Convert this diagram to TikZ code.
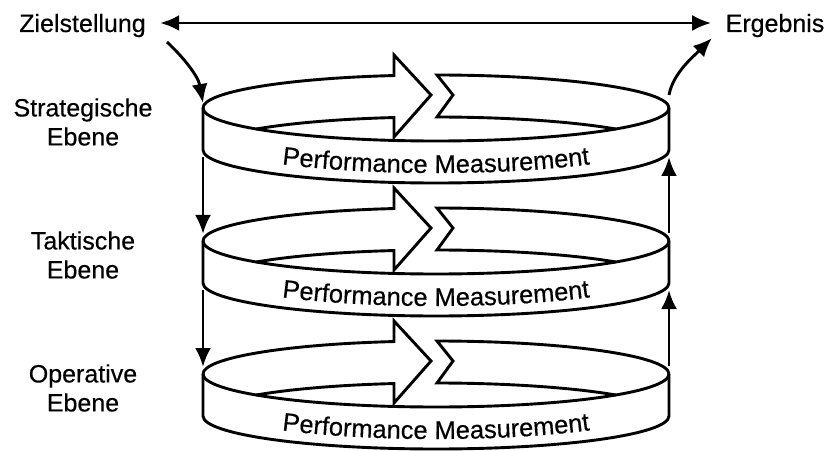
\documentclass[tikz,border=0pt]{standalone}
\usepackage{fontspec}
\setmainfont{Liberation Sans}[FakeBold=0.4]
\usetikzlibrary{arrows.meta,decorations.text}
\newcommand\pmfont{\fontsize{25.5}{30}\selectfont}
\begin{document}
\begin{tikzpicture}[x=1pt,y=1pt,line width=2.9pt,
  arr/.style={-{Latex[length=19pt,width=16pt]}},
  darr/.style={{Latex[length=19pt,width=16pt]}-{Latex[length=19pt,width=16pt]}},
  lbl/.style={align=center,font=\fontsize{25}{29}\selectfont,inner sep=0pt},
  ttl/.style={font=\fontsize{25}{30}\selectfont,inner sep=0pt,anchor=base},
  pmring/.pic={
    \coordinate (-L) at (-233,0);
    \coordinate (-R) at (233,0);
    \coordinate (-BL) at (-233,-42);
    \coordinate (-BR) at (233,-42);
    \draw (-233,0) arc[start angle=180,end angle=360,x radius=233,y radius=33];
    \draw (-233,0) -- (-233,-42) arc[start angle=180,end angle=360,x radius=233,y radius=33] -- (233,0);
    \draw (-233,0) arc[start angle=180,end angle=100.385,x radius=233,y radius=33]
       -- (-42,53) -- (-5,13) -- (-42,-29) -- (-42,-9.54)
       arc[start angle=100.385,end angle=140.48,x radius=233,y radius=33];
    \draw (233,0) arc[start angle=0,end angle=89.754,x radius=233,y radius=33]
       -- (17,13) -- (1,-9)
       arc[start angle=89.754,end angle=39.52,x radius=233,y radius=33];
    \path[decorate,decoration={text along path,text align=center,
        text={|\pmfont|Performance Measurement}}]
       (-218.95,-41.97) arc[start angle=200,end angle=340,x radius=233,y radius=35];
  }]
\path[fill=white,use as bounding box] (0,0) rectangle (829,450);

\pic (r1) at (436,342) {pmring};
\pic (r2) at (436,209) {pmring};
\pic (r3) at (436,76) {pmring};

\node[lbl] (s1) at (83,328) {Strategische\\Ebene};
\node[lbl] (s2) at (83,195) {Taktische\\Ebene};
\node[lbl] (s3) at (83,62) {Operative\\Ebene};

\node[ttl] (ziel) at (82.5,418) {Zielstellung};
\node[ttl] (erg) at (775,418) {Ergebnis};

\draw[darr] ([xshift=13pt,yshift=9pt]ziel.base east) -- ([xshift=-13pt,yshift=9pt]erg.base west);

\coordinate (zs) at (167,408);
\coordinate (ee) at (712,412);
\draw[arr] (zs) .. controls (181,395) and (198,375) .. ([yshift=5pt]r1-L);
\draw[arr] ([yshift=13pt]r1-R) .. controls (673,377) and (694,394) .. (ee);

\draw[arr] ([yshift=-7pt]r1-BL) -- ([yshift=7pt]r2-L);
\draw[arr] ([yshift=-7pt]r2-BL) -- ([yshift=7pt]r3-L);
\draw[arr] ([yshift=8pt]r2-R) -- ([yshift=-7pt]r1-BR);
\draw[arr] ([yshift=8pt]r3-R) -- ([yshift=-7pt]r2-BR);
\end{tikzpicture}
\end{document}
